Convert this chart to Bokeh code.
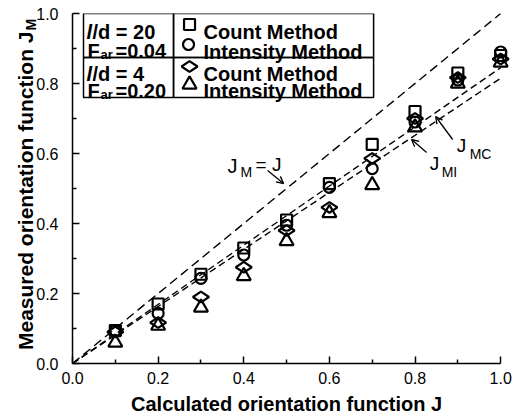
import math
from bokeh.plotting import figure
from bokeh.models import (Range1d, FixedTicker, PrintfTickFormatter, Label,
                          Arrow, OpenHead, BoxAnnotation)
from bokeh.embed import file_html
from bokeh.resources import INLINE

# ---------------- data ----------------
J_calc = [0.1, 0.2, 0.3, 0.4, 0.5, 0.6, 0.7, 0.8, 0.9, 1.0]
count_ld20 = [0.094, 0.17, 0.255, 0.33, 0.41, 0.514, 0.626, 0.72, 0.83, 0.88]
intens_ld20 = [0.094, 0.143, 0.243, 0.31, 0.395, 0.503, 0.557, 0.69, 0.81, 0.89]
count_ld4 = [0.09, 0.117, 0.19, 0.275, 0.38, 0.446, 0.586, 0.70, 0.817, 0.87]
intens_ld4 = [0.06, 0.108, 0.16, 0.25, 0.35, 0.43, 0.51, 0.675, 0.80, 0.86]

line_x = [0.0, 1.0]
ideal_y = [0.0, 1.0]       # J_M = J
fit_mc_y = [0.0, 0.845]    # J_MC
fit_mi_y = [0.0, 0.815]    # J_MI

x_ticks = [0.0, 0.2, 0.4, 0.6, 0.8, 1.0]
x_minor = [0.1, 0.3, 0.5, 0.7, 0.9]
y_ticks = [0.0, 0.2, 0.4, 0.6, 0.8, 1.0]
y_minor = [0.1, 0.3, 0.5, 0.7, 0.9]

FONT = "Liberation Sans"

# ---------------- figure ----------------
W, H = 514, 413
L, T, B = 72, 13, 50
UNIT_X = 428           # pixels per x unit
XMAX = 1.03
R = W - L - round(UNIT_X * XMAX)
p = figure(width=W, height=H, output_backend="svg", toolbar_location=None,
           x_range=Range1d(0, XMAX), y_range=Range1d(0, 1),
           min_border_left=L, min_border_right=R, min_border_top=T,
           min_border_bottom=B)
p.outline_line_color = None
p.grid.visible = False
p.background_fill_color = "white"
p.border_fill_color = "white"

fh = H - T - B


def sx(px):
    return (px - L) / UNIT_X


def sy(py):
    return (H - B - py) / fh


for ax, ticks, minor in ((p.xaxis[0], x_ticks, x_minor), (p.yaxis[0], y_ticks, y_minor)):
    ax.ticker = FixedTicker(ticks=ticks, minor_ticks=minor)
    ax.formatter = PrintfTickFormatter(format="%.1f")
    ax.axis_line_color = "black"
    ax.axis_line_width = 1.5
    ax.major_tick_in = 7
    ax.major_tick_out = 0
    ax.minor_tick_in = 4
    ax.minor_tick_out = 0
    ax.major_tick_line_color = "black"
    ax.major_tick_line_width = 1.5
    ax.minor_tick_line_color = "black"
    ax.minor_tick_line_width = 1.5
    ax.major_label_text_font = FONT
    ax.major_label_text_font_size = "16px"
    ax.major_label_text_color = "black"

p.xaxis.bounds = (0, 1)
p.xaxis.major_label_standoff = 8
p.yaxis.major_label_standoff = 14

# ---------------- lines ----------------
p.line(line_x, ideal_y, line_color="black", line_width=1.4, line_dash="9 5")
p.line(line_x, fit_mc_y, line_color="black", line_width=1.4, line_dash="7 4")
p.line(line_x, fit_mi_y, line_color="black", line_width=1.4, line_dash="7 4")

# ---------------- markers ----------------
mk = dict(line_color="black", line_width=2.2, fill_alpha=0)
p.scatter(J_calc, count_ld20, marker="square", size=11, **mk)
p.scatter(J_calc, intens_ld20, marker="circle", size=11, **mk)
p.scatter(J_calc, count_ld4, marker="diamond", size=16, angle=math.pi / 2, **mk)
p.scatter(J_calc, intens_ld4, marker="triangle", size=14, **mk)

# ---------------- legend box ----------------
for (l, r, t, b) in ((83, 173, 13, 57), (173, 373, 13, 57),
                     (83, 173, 57, 97), (173, 373, 57, 97)):
    p.add_layout(BoxAnnotation(left=sx(l), right=sx(r), top=sy(t), bottom=sy(b),
                               fill_alpha=0, line_color="black", line_width=1.5,
                               line_alpha=1))

p.scatter([sx(189)], [sy(24)], marker="square", size=11, **mk)
p.scatter([sx(188)], [sy(44)], marker="circle", size=11, **mk)
p.scatter([sx(189)], [sy(66)], marker="diamond", size=16, angle=math.pi / 2, **mk)
p.scatter([sx(189)], [sy(84)], marker="triangle", size=14, **mk)


def lab(text, px, py, size, style="bold", align="left", angle=0.0,
        baseline="alphabetic", place="center"):
    p.add_layout(Label(x=sx(px), y=sy(py), text=text, text_font=FONT,
                       text_font_size=f"{size}px", text_font_style=style,
                       text_color="black", text_align=align,
                       text_baseline=baseline, angle=angle), place)


for txt, py in (("Count Method", 31), ("Intensity Method", 51),
                ("Count Method", 73), ("Intensity Method", 90)):
    lab(txt, 203, py, 20)

# left column
lab("l", 86, 31, 20, style="bold italic")
lab("/d = 20", 92, 31, 20)
lab("F", 87, 50, 20)
lab("ar", 100, 54, 13)
lab("=0.04", 115, 50, 20)
lab("l", 86, 73, 20, style="bold italic")
lab("/d =  4", 92, 73, 20)
lab("F", 87, 90, 20)
lab("ar", 100, 94, 13)
lab("=0.20", 115, 90, 20)

# ---------------- annotations ----------------
lab("J", 227, 165, 20, style="normal")
lab("M", 240, 171, 14, style="normal")
lab("= J", 255, 164, 19, style="normal")
p.add_layout(Arrow(end=OpenHead(size=7, line_width=1.3), line_width=1.3,
                   x_start=sx(267), y_start=sy(170), x_end=sx(283), y_end=sy(183)))

lab("J", 456, 145, 19, style="normal")
lab("MC", 469, 153, 14, style="normal")
p.add_layout(Arrow(end=OpenHead(size=7, line_width=1.3), line_width=1.3,
                   x_start=sx(452), y_start=sy(139), x_end=sx(435), y_end=sy(116)))

lab("J", 429, 163, 19, style="normal")
lab("MI", 441, 171, 14, style="normal")
p.add_layout(Arrow(end=OpenHead(size=7, line_width=1.3), line_width=1.3,
                   x_start=sx(426), y_start=sy(152), x_end=sx(411), y_end=sy(139)))

# ---------------- axis titles (in side panels, so they are not clipped) -------
lab("Calculated orientation function J", L + UNIT_X / 2, 403, 20, align="center",
    place="below")
lab("Measured orientation function J", 25, 31, 21, align="right",
    angle=math.pi / 2, baseline="middle", place="left")
lab("M", 31, 30, 14, style="bold", align="left", angle=math.pi / 2,
    baseline="middle", place="above")

open("out.html", "w").write(file_html(p, INLINE))
